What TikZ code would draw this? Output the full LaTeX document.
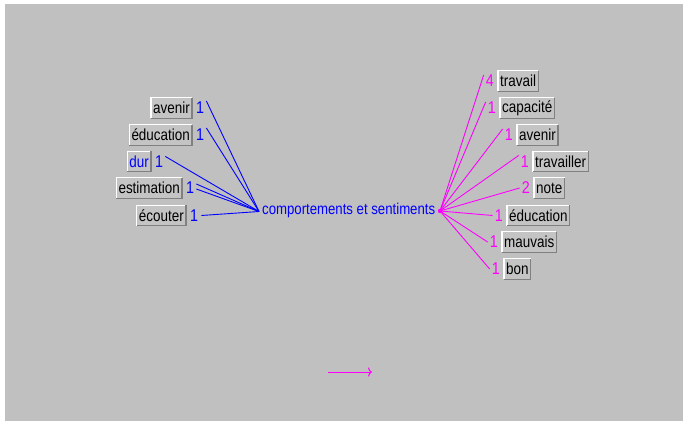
\documentclass[tikz,border=0pt]{standalone}
\usepackage{fontspec}
\setmainfont{Liberation Sans}
\newfontfamily\tallfont[FakeStretch=0.84]{Liberation Sans}
\usetikzlibrary{positioning,arrows.meta}
\definecolor{bg}{HTML}{C0C0C0}
\definecolor{btnfill}{HTML}{C4C4C4}
\definecolor{mag}{HTML}{FF00FF}
\definecolor{blu}{HTML}{0000FF}
\definecolor{btnedge}{HTML}{808080}
\tikzset{
  btn/.style={fill=btnfill, inner xsep=2pt, inner ysep=0pt, minimum height=20pt, font=\tallfont\fontsize{16}{17}\selectfont},
  cnt/.style={inner sep=0pt, font=\tallfont\fontsize{17}{18}\selectfont},
  lcnt/.style={cnt, text=blu},
  rcnt/.style={cnt, text=mag},
  bline/.style={blu, line width=0.9pt},
  mline/.style={mag, line width=0.9pt},
}
\newcommand\btn[4][black]{%
  \node[btn,text=#1,#3] (#2) {#4};
  \draw[white,line width=1.2pt] (#2.south west) -- (#2.north west) -- (#2.north east);
  \draw[btnedge,line width=1.2pt] (#2.north east) -- (#2.south east) -- (#2.south west);
}
\begin{document}
\begin{tikzpicture}[x=1pt,y=-1pt]
\useasboundingbox (0,0) rectangle (686,424);
\fill[white] (0,0) rectangle (686,424);
\fill[bg] (5,4) rectangle (683,421);
% left
\btn{la}{anchor=east, at={(192,108)}}{avenir}
\btn{le}{anchor=east, at={(192,135)}}{éducation}
\btn[blu]{ld}{anchor=east, at={(151,161.5)}}{dur}
\btn{les}{anchor=east, at={(182,188)}}{estimation}
\btn{lec}{anchor=east, at={(186,215.5)}}{écouter}
\node[lcnt, right=4pt of la] (cla) {1};
\node[lcnt, right=4pt of le] (cle) {1};
\node[lcnt, right=4pt of ld] (cld) {1};
\node[lcnt, right=4pt of les] (cles) {1};
\node[lcnt, right=4pt of lec] (clec) {1};
% center
\node[inner sep=0pt, text=blu, font=\tallfont\fontsize{15.7}{17}\selectfont, anchor=west] (c) at (262,210) {comportements et sentiments};
\coordinate (hl) at (259,211.5);
\coordinate (hr) at (440,211);
\fill[mag] (hr) circle (2.2);
% right
\btn{ra}{anchor=west, at={(498,81)}}{travail}
\btn{rb}{anchor=west, at={(500,108)}}{capacité}
\btn{rc}{anchor=west, at={(517,135)}}{avenir}
\btn{rd}{anchor=west, at={(533,161.5)}}{travailler}
\btn{re}{anchor=west, at={(534,188)}}{note}
\btn{rf}{anchor=west, at={(507,215.5)}}{éducation}
\btn{rg}{anchor=west, at={(502,242)}}{mauvais}
\btn{rh}{anchor=west, at={(504,269)}}{bon}
\node[rcnt, left=4pt of ra] (cra) {4};
\node[rcnt, left=4pt of rb] (crb) {1};
\node[rcnt, left=4pt of rc] (crc) {1};
\node[rcnt, left=4pt of rd] (crd) {1};
\node[rcnt, left=4pt of re] (cre) {2};
\node[rcnt, left=4pt of rf] (crf) {1};
\node[rcnt, left=4pt of rg] (crg) {1};
\node[rcnt, left=4pt of rh] (crh) {1};
% blue connectors
\draw[bline] ([xshift=2pt,yshift=1pt]cla.north east) -- (hl);
\draw[bline] ([xshift=2pt,yshift=1pt]cle.north east) -- (hl);
\draw[bline] ([xshift=2pt,yshift=-1pt]cld.north east) -- (hl);
\draw[bline] ([xshift=2pt,yshift=-2pt]cles.north east) -- (hl);
\draw[bline] ([xshift=2pt,yshift=-1pt]cles.east) -- (hl);
\draw[bline] ([xshift=3pt]clec.east) -- (hl);
% magenta connectors
\draw[mline] (hr) -- ([xshift=-2pt]cra.north west);
\draw[mline] (hr) -- ([xshift=-2pt]crb.north west);
\draw[mline] (hr) -- ([xshift=-2pt]crc.north west);
\draw[mline] (hr) -- ([xshift=-2pt]crd.north west);
\draw[mline] (hr) -- ([xshift=-2pt]cre.west);
\draw[mline] (hr) -- ([xshift=-2pt]crf.west);
\draw[mline] (hr) -- ([xshift=-2pt]crg.west);
\draw[mline] (hr) -- ([xshift=-2pt]crh.west);
% bottom arrow
\coordinate (a1) at (328,372);
\coordinate (a2) at (372,372);
\draw[mag, line width=1pt, -{To[length=4pt,width=9pt]}] (a1) -- (a2);
\end{tikzpicture}
\end{document}
